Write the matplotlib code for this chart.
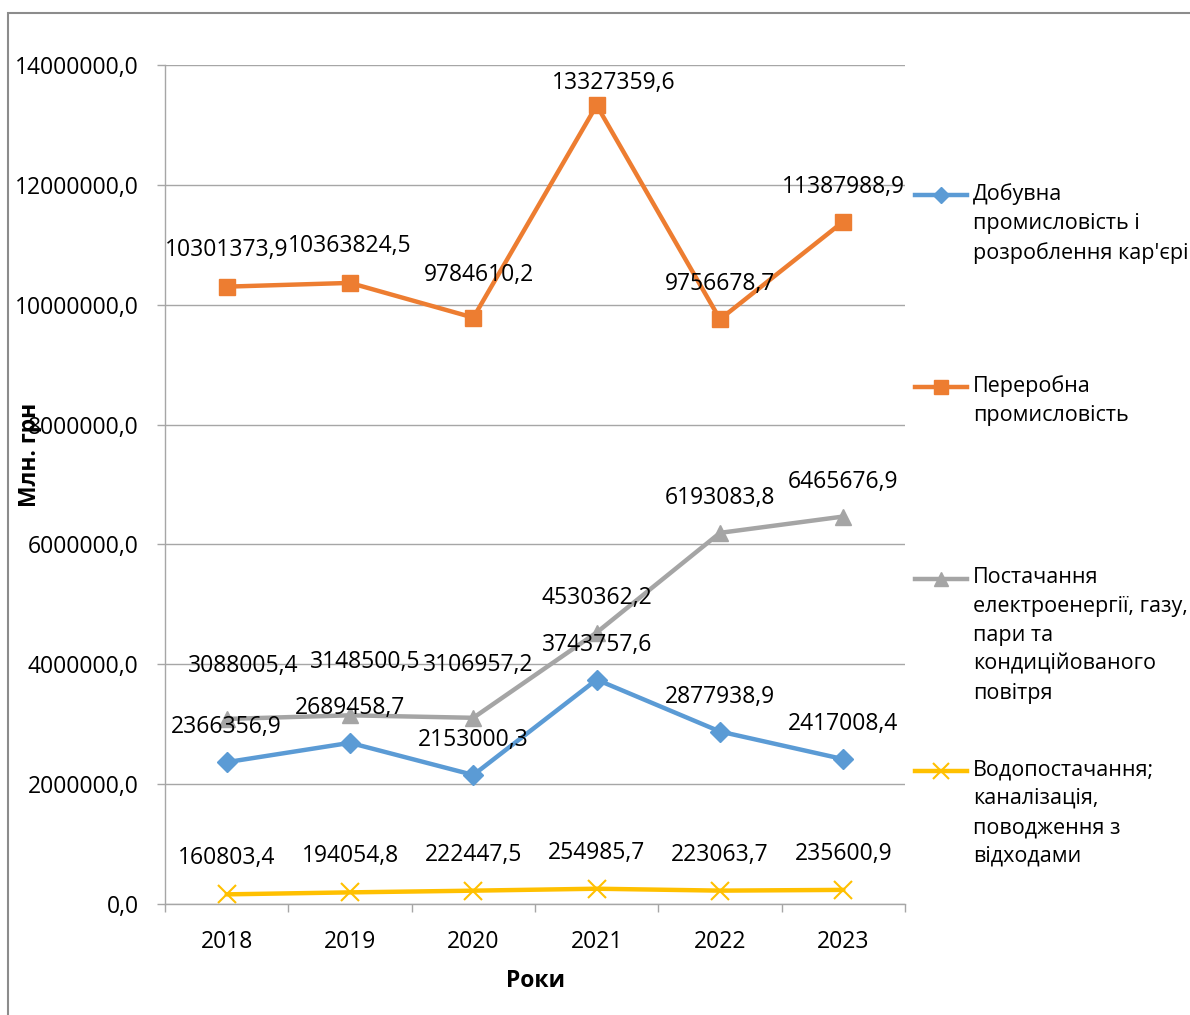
import matplotlib.pyplot as plt
from matplotlib.lines import Line2D
from matplotlib.patches import Rectangle
from matplotlib.ticker import FuncFormatter
import numpy as np

plt.rcParams['font.family'] = ['Open Sans', 'DejaVu Sans']

# data
years = ['2018', '2019', '2020', '2021', '2022', '2023']
mining = [2366356.9, 2689458.7, 2153000.3, 3743757.6, 2877938.9, 2417008.4]
manufacturing = [10301373.9, 10363824.5, 9784610.2, 13327359.6, 9756678.7, 11387988.9]
energy = [3088005.4, 3148500.5, 3106957.2, 4530362.2, 6193083.8, 6465676.9]
water = [160803.4, 194054.8, 222447.5, 254985.7, 223063.7, 235600.9]

names = ["Добувна\nпромисловість і\nрозроблення кар'єрів",
         "Переробна\nпромисловість",
         "Постачання\nелектроенергії, газу,\nпари та\nкондиційованого\nповітря",
         "Водопостачання;\nканалізація,\nповодження з\nвідходами"]

# styles
colors = ['#5B9BD5', '#ED7D31', '#A5A5A5', '#FFC000']
markers = ['D', 's', '^', 'x']
msizes = [10, 12, 12, 13]

# label offsets in pixels (dx, dy up)
offsets = [
    [(0, 35)] * 6,
    [(0, 37), (0, 37), (6, 43), (17, 22), (0, 35), (0, 35)],
    [(17, 53), (15, 53), (5, 53), (0, 35), (0, 35), (0, 35)],
    [(0, 36)] * 6,
]

W, H = 1190, 1015
fig = plt.figure(figsize=(W / 100, H / 100), dpi=100)
ax = fig.add_axes([165 / W, 1 - 904 / H, 740 / W, 839 / H])

grid_c = '#A6A6A6'
fs = 16.5
x = np.arange(len(years))
series = [mining, manufacturing, energy, water]

for i, vals in enumerate(series):
    mew = 1.5 if markers[i] == 'x' else 1
    ax.plot(x, vals, color=colors[i], lw=3.2, marker=markers[i], ms=msizes[i],
            mew=mew, zorder=3, solid_capstyle='round')
    for j, v in enumerate(vals):
        dx, dy = offsets[i][j]
        ax.annotate(f'{v:.1f}'.replace('.', ','), (x[j], v),
                    xytext=(dx * 0.72, dy * 0.72), textcoords='offset points',
                    ha='center', va='center', fontsize=fs, zorder=4)

ax.set_xlim(-0.5, 5.5)
ax.set_ylim(0, 14000000)
ax.set_yticks(np.arange(0, 14000001, 2000000))
ax.yaxis.set_major_formatter(FuncFormatter(lambda v, p: f'{v:.1f}'.replace('.', ',')))
ax.set_xticks(np.arange(-0.5, 6, 1))
ax.set_xticklabels([])
ax.set_xticks(x, minor=True)
ax.set_xticklabels(years, minor=True)
ax.tick_params(axis='x', which='minor', length=0, pad=19, labelsize=fs)
ax.tick_params(axis='x', which='major', length=6, color=grid_c, width=1)
ax.tick_params(axis='y', length=6, color=grid_c, width=1, pad=13, labelsize=fs)

ax.grid(axis='y', color=grid_c, lw=1)
ax.set_axisbelow(True)
for s in ['top', 'right']:
    ax.spines[s].set_visible(False)
for s in ['left', 'bottom']:
    ax.spines[s].set_color(grid_c)
    ax.spines[s].set_linewidth(1)

ax.set_xlabel('Роки', fontsize=fs, fontweight='bold')
ax.xaxis.set_label_coords(0.5, -0.077)
ax.set_ylabel('Млн. грн', fontsize=fs, fontweight='bold')
ax.yaxis.set_label_coords(-0.166, 0.535)

# legend drawn by hand so the handle sits on the first line
leg_fs = 15.5
leg_y = [195, 387, 579, 771]
for i in range(4):
    yy = 1 - leg_y[i] / H
    mew = 1.5 if markers[i] == 'x' else 1
    fig.add_artist(Line2D([915 / W, 941 / W, 967 / W], [yy, yy, yy], color=colors[i],
                          lw=3.2, marker=markers[i], ms=msizes[i] * 0.85, mew=mew,
                          markevery=[1]))
    fig.text(973 / W, yy + 12 / H, names[i], fontsize=leg_fs, va='top', ha='left',
             linespacing=1.5)

# chart border
fig.add_artist(Rectangle((8 / W, -0.1), 1.2, 1.1 - 13 / H, transform=fig.transFigure,
                         fill=False, edgecolor='#8C8C8C', lw=1.5))

fig.savefig('out.png', dpi=100)
